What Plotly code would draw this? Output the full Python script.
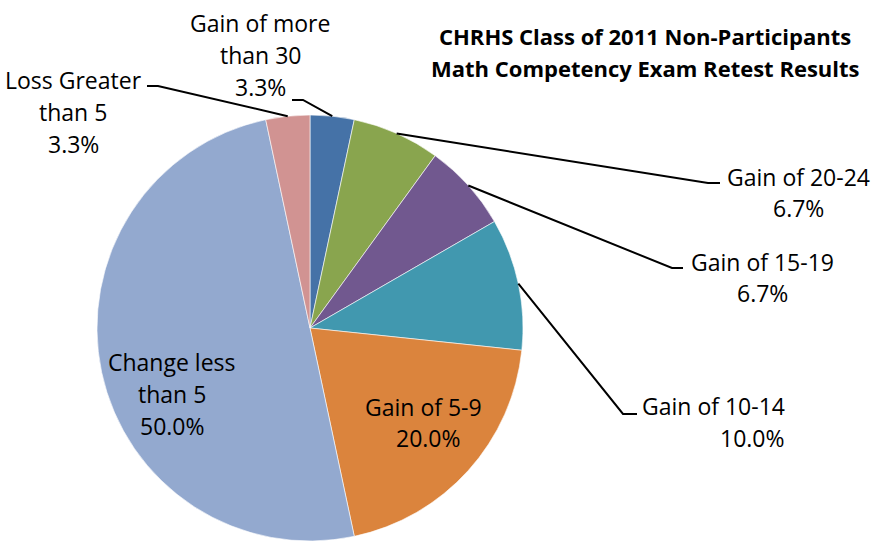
import math
import plotly.graph_objects as go

# ---- data ----
categories = ["Gain of more than 30", "Gain of 20-24", "Gain of 15-19", "Gain of 10-14",
              "Gain of 5-9", "Change less than 5", "Loss Greater than 5"]
counts = [1, 2, 2, 3, 6, 15, 1]
label_lines = [["Gain of more", "than 30"], ["Gain of 20-24"], ["Gain of 15-19"], ["Gain of 10-14"],
               ["Gain of 5-9"], ["Change less", "than 5"], ["Loss Greater", "than 5"]]
title_lines = ["CHRHS Class of 2011 Non-Participants", "Math Competency Exam Retest Results"]

colors = ["#4572A7", "#89A54E", "#71588F", "#4198AF", "#DB843D", "#93A9CF", "#D19392"]

W, H = 873, 541
CX, CY, R = 310, 328, 213
FONT = "Open Sans"
FS = 23

# label layout: centers of each line, y of first line, line spacing; leader elbow/end points
label_pos = [
    dict(x=[260, 260, 260], y0=23, lh=32),
    dict(x=[798, 798], y0=177, lh=31),
    dict(x=[762, 762], y0=262, lh=31),
    dict(x=[713, 752], y0=406, lh=32),
    dict(x=[423, 428], y0=407, lh=31),
    dict(x=[172, 172, 172], y0=362, lh=32),
    dict(x=[73, 73, 73], y0=80, lh=32),
]
leaders = {0: [(303, 100), (292, 100)], 1: [(708, 183), (720, 183)], 2: [(672, 268), (683, 268)],
           3: [(623, 414), (637, 414)], 6: [(158, 86), (147, 86)]}

total = sum(counts)
pcts = [f"{c / total * 100:.1f}%" for c in counts]


def px(x):
    return x / W


def py(y):
    return 1 - y / H


fig = go.Figure(go.Pie(
    labels=categories, values=counts, sort=False, direction="clockwise", rotation=0,
    marker=dict(colors=colors, line=dict(color="white", width=0.6)),
    textinfo="none", hoverinfo="label+percent", showlegend=False,
    domain=dict(x=[px(CX - R), px(CX + R)], y=[py(CY + R), py(CY - R)]),
))

annotations = []
for i, lines in enumerate(label_lines):
    pos = label_pos[i]
    allines = lines + [pcts[i]]
    for j, t in enumerate(allines):
        annotations.append(dict(
            x=px(pos["x"][j]), y=py(pos["y0"] + j * pos["lh"]), xref="paper", yref="paper",
            text=t, showarrow=False, xanchor="center", yanchor="middle",
            font=dict(family=FONT, size=FS, color="black")))

for j, t in enumerate(title_lines):
    annotations.append(dict(
        x=px(645), y=py(36 + j * 32), xref="paper", yref="paper", text=f"<b>{t}</b>",
        showarrow=False, xanchor="center", yanchor="middle",
        font=dict(family=FONT, size=22, color="black")))

shapes = []
cum = 0
for i, c in enumerate(counts):
    mid = (cum + c / 2) / total * 2 * math.pi
    cum += c
    if i not in leaders:
        continue
    ex = CX + R * math.sin(mid)
    ey = CY - R * math.cos(mid)
    pts = [(ex, ey)] + leaders[i]
    path = "M " + " L ".join(f"{px(a):.5f},{py(b):.5f}" for a, b in pts)
    shapes.append(dict(type="path", path=path, xref="paper", yref="paper",
                       line=dict(color="black", width=2)))

fig.update_layout(
    width=W, height=H, margin=dict(l=0, r=0, t=0, b=0),
    paper_bgcolor="white", plot_bgcolor="white",
    annotations=annotations, shapes=shapes,
)

fig.write_html("out.html", config={"displayModeBar": False},
               post_script="document.body.style.margin='0px';")
